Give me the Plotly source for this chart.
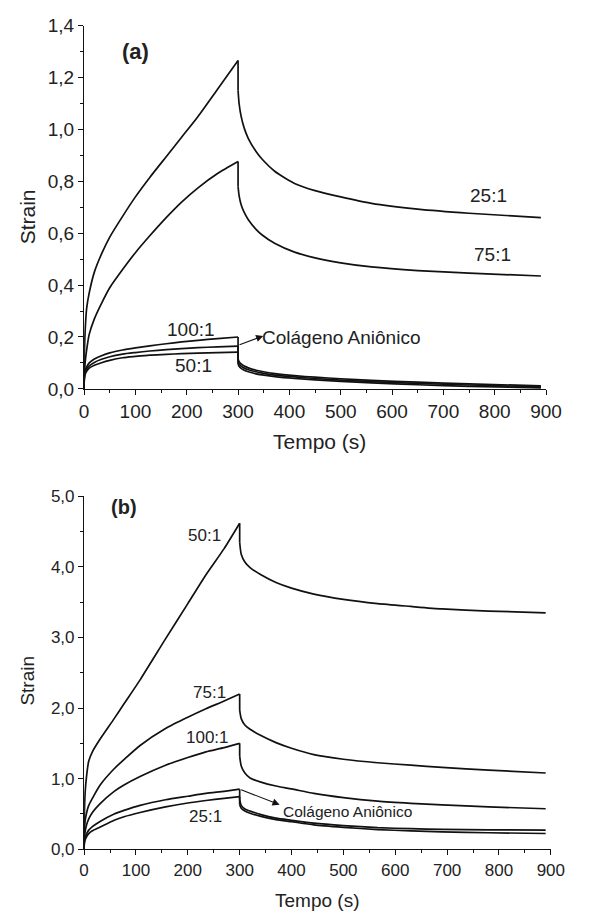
import plotly.graph_objects as go

# ---------------- data: panel (a) ----------------
ta_creep = [0, 0.5, 2, 5, 10, 20, 34, 50, 75, 100, 128, 160, 190, 222, 260, 300]
ta_rec = [300, 302, 306, 312, 320, 335, 347, 372, 410, 450, 500, 560, 650, 750, 890]

a_25_creep = [0, 0.12, 0.22, 0.31, 0.37, 0.45, 0.52, 0.585, 0.665, 0.74, 0.815, 0.895, 0.97, 1.05, 1.155, 1.266]
a_25_rec = [1.15, 1.1, 1.05, 1.005, 0.965, 0.915, 0.885, 0.838, 0.792, 0.764, 0.74, 0.715, 0.693, 0.677, 0.66]
a_75_creep = [0, 0.05, 0.1, 0.15, 0.21, 0.27, 0.33, 0.39, 0.46, 0.525, 0.59, 0.66, 0.72, 0.775, 0.83, 0.876]
a_75_rec = [0.78, 0.745, 0.71, 0.68, 0.652, 0.615, 0.593, 0.56, 0.527, 0.505, 0.486, 0.47, 0.456, 0.446, 0.435]
a_100_creep = [0, 0.05, 0.07, 0.085, 0.1, 0.115, 0.128, 0.139, 0.15, 0.158, 0.166, 0.174, 0.181, 0.187, 0.194, 0.2]
a_100_rec = [0.115, 0.105, 0.096, 0.088, 0.081, 0.072, 0.067, 0.059, 0.051, 0.045, 0.039, 0.033, 0.026, 0.019, 0.012]
a_col_creep = [0, 0.045, 0.062, 0.076, 0.089, 0.102, 0.114, 0.124, 0.134, 0.14, 0.146, 0.151, 0.155, 0.159, 0.162, 0.165]
a_col_rec = [0.105, 0.096, 0.088, 0.08, 0.074, 0.066, 0.061, 0.053, 0.046, 0.04, 0.034, 0.028, 0.021, 0.015, 0.008]
a_50_creep = [0, 0.04, 0.056, 0.068, 0.08, 0.091, 0.101, 0.11, 0.12, 0.125, 0.13, 0.133, 0.136, 0.138, 0.14, 0.142]
a_50_rec = [0.095, 0.087, 0.079, 0.072, 0.066, 0.058, 0.054, 0.047, 0.04, 0.035, 0.029, 0.023, 0.016, 0.01, 0.004]

# ---------------- data: panel (b) ----------------
tb_creep = [0, 0.5, 2, 5, 9, 16, 30, 58, 77, 108, 157, 200, 235, 270, 300]
tb_rec = [300, 303, 310, 320, 341, 370, 400, 443, 500, 566, 630, 690, 780, 890]

b_50_creep = [0, 0.45, 0.8, 1.05, 1.25, 1.38, 1.55, 1.85, 2.06, 2.4, 2.98, 3.48, 3.89, 4.26, 4.62]
b_50_rec = [4.35, 4.18, 4.07, 3.99, 3.89, 3.78, 3.70, 3.615, 3.54, 3.48, 3.44, 3.405, 3.375, 3.35]
b_75_creep = [0, 0.25, 0.4, 0.52, 0.62, 0.72, 0.9, 1.14, 1.27, 1.47, 1.71, 1.87, 1.99, 2.1, 2.2]
b_75_rec = [1.97, 1.85, 1.76, 1.7, 1.61, 1.51, 1.43, 1.34, 1.275, 1.225, 1.19, 1.16, 1.12, 1.08]
b_100_creep = [0, 0.15, 0.25, 0.35, 0.43, 0.52, 0.64, 0.82, 0.91, 1.03, 1.19, 1.3, 1.38, 1.44, 1.5]
b_100_rec = [1.32, 1.18, 1.08, 1.01, 0.95, 0.895, 0.855, 0.79, 0.73, 0.68, 0.65, 0.628, 0.6, 0.573]
b_col_creep = [0, 0.1, 0.16, 0.22, 0.27, 0.32, 0.39, 0.5, 0.55, 0.62, 0.7, 0.75, 0.79, 0.82, 0.85]
b_col_rec = [0.7, 0.62, 0.57, 0.54, 0.49, 0.44, 0.41, 0.37, 0.335, 0.305, 0.29, 0.28, 0.274, 0.27]
b_25_creep = [0, 0.08, 0.13, 0.18, 0.22, 0.26, 0.31, 0.41, 0.46, 0.52, 0.6, 0.655, 0.69, 0.72, 0.744]
b_25_rec = [0.63, 0.58, 0.54, 0.51, 0.465, 0.42, 0.39, 0.345, 0.31, 0.278, 0.26, 0.246, 0.233, 0.222]

W, H = 590, 924
FONT = "Liberation Sans, Arial, Helvetica, sans-serif"
LINE = dict(color="#111111", width=1.7)

fig = go.Figure()

def add(tc, vc, tr, vr, xa, ya):
    common = dict(mode="lines", xaxis=xa, yaxis=ya, showlegend=False, hoverinfo="skip")
    # creep phase
    fig.add_trace(go.Scatter(x=tc, y=vc, line=dict(shape="spline", smoothing=0.6, **LINE), **common))
    # instantaneous elastic recovery at t=300
    fig.add_trace(go.Scatter(x=[tc[-1], tr[0]], y=[vc[-1], vr[0]], line=LINE, **common))
    # recovery phase
    fig.add_trace(go.Scatter(x=tr, y=vr, line=dict(shape="spline", smoothing=0.6, **LINE), **common))

for vc, vr in [(a_25_creep, a_25_rec), (a_75_creep, a_75_rec), (a_100_creep, a_100_rec),
               (a_col_creep, a_col_rec), (a_50_creep, a_50_rec)]:
    add(ta_creep, vc, ta_rec, vr, "x", "y")
for vc, vr in [(b_50_creep, b_50_rec), (b_75_creep, b_75_rec), (b_100_creep, b_100_rec),
               (b_col_creep, b_col_rec), (b_25_creep, b_25_rec)]:
    add(tb_creep, vc, tb_rec, vr, "x2", "y2")

def px(x):
    return x / W

def py(y):
    return 1 - y / H

axis_common = dict(showline=True, linecolor="#111111", linewidth=1.3, ticks="outside",
                   ticklen=5, tickwidth=1.3, tickcolor="#111111", showgrid=False,
                   zeroline=False, mirror=False)

fig.update_layout(
    width=W, height=H, margin=dict(l=0, r=0, t=0, b=0),
    paper_bgcolor="white", plot_bgcolor="white",
    separators=",.",
    font=dict(family=FONT, color="#222222"),
    xaxis=dict(domain=[px(82), px(561)], anchor="y", range=[0, 900], dtick=100,
               tickfont=dict(size=19),
               minor=dict(ticks="outside", ticklen=3, dtick=50, tickcolor="#111111", tickwidth=1.2),
               **axis_common),
    yaxis=dict(domain=[py(387.7), py(16)], anchor="x", range=[0, 1.4], dtick=0.2,
               tickformat=".1f", tickfont=dict(size=19),
               minor=dict(ticks="outside", ticklen=3, dtick=0.1, tickcolor="#111111", tickwidth=1.2),
               **axis_common),
    xaxis2=dict(domain=[px(82), px(566)], anchor="y2", range=[0, 900], dtick=100,
                tickfont=dict(size=17),
                minor=dict(ticks="outside", ticklen=3, dtick=50, tickcolor="#111111", tickwidth=1.2),
                **axis_common),
    yaxis2=dict(domain=[py(858.7), py(497.7)], anchor="x2", range=[0, 5.0], dtick=1,
                tickformat=".1f", tickfont=dict(size=17),
                minor=dict(ticks="outside", ticklen=3, dtick=0.5, tickcolor="#111111", tickwidth=1.2),
                **axis_common),
)

ann = []
# axis titles (paper coordinates)
ann.append(dict(x=px(326), y=py(442), xref="paper", yref="paper", text="Tempo (s)",
                showarrow=False, font=dict(size=21), xanchor="center", yanchor="middle"))
ann.append(dict(x=px(324), y=py(911), xref="paper", yref="paper", text="Tempo (s)",
                showarrow=False, font=dict(size=19), xanchor="center", yanchor="middle"))
ann.append(dict(x=px(23), y=py(212), xref="paper", yref="paper", text="Strain", textangle=-90,
                showarrow=False, font=dict(size=21), xanchor="center", yanchor="middle"))
ann.append(dict(x=px(23), y=py(686), xref="paper", yref="paper", text="Strain", textangle=-90,
                showarrow=False, font=dict(size=19), xanchor="center", yanchor="middle"))

# panel (a) labels
for t, v, s, fs in [(100, 1.302, "<b>(a)</b>", 22), (788, 0.747, "25:1", 19), (796, 0.518, "75:1", 19),
                    (209, 0.23, "100:1", 19), (214, 0.092, "50:1", 19),
                    (500, 0.198, "Colágeno Aniônico", 19)]:
    ann.append(dict(x=t, y=v, xref="x", yref="y", text=s, showarrow=False,
                    font=dict(size=fs), xanchor="center", yanchor="middle"))
ann.append(dict(x=349, y=0.204, xref="x", yref="y", ax=300, ay=0.168, axref="x", ayref="y",
                text="", showarrow=True, arrowhead=2, arrowsize=1.3, arrowwidth=1.1,
                arrowcolor="#111111"))

# panel (b) labels
for t, v, s, fs in [(77, 4.85, "<b>(b)</b>", 20), (232, 4.44, "50:1", 17), (241, 2.22, "75:1", 17),
                    (237, 1.58, "100:1", 17), (235, 0.47, "25:1", 17),
                    (507, 0.536, "Colágeno Aniônico", 15.5)]:
    ann.append(dict(x=t, y=v, xref="x2", yref="y2", text=s, showarrow=False,
                    font=dict(size=fs), xanchor="center", yanchor="middle"))
ann.append(dict(x=377, y=0.63, xref="x2", yref="y2", ax=300, ay=0.85, axref="x2", ayref="y2",
                text="", showarrow=True, arrowhead=2, arrowsize=1.3, arrowwidth=1.1,
                arrowcolor="#111111"))

fig.update_layout(annotations=ann)
fig.write_html("out.html")
